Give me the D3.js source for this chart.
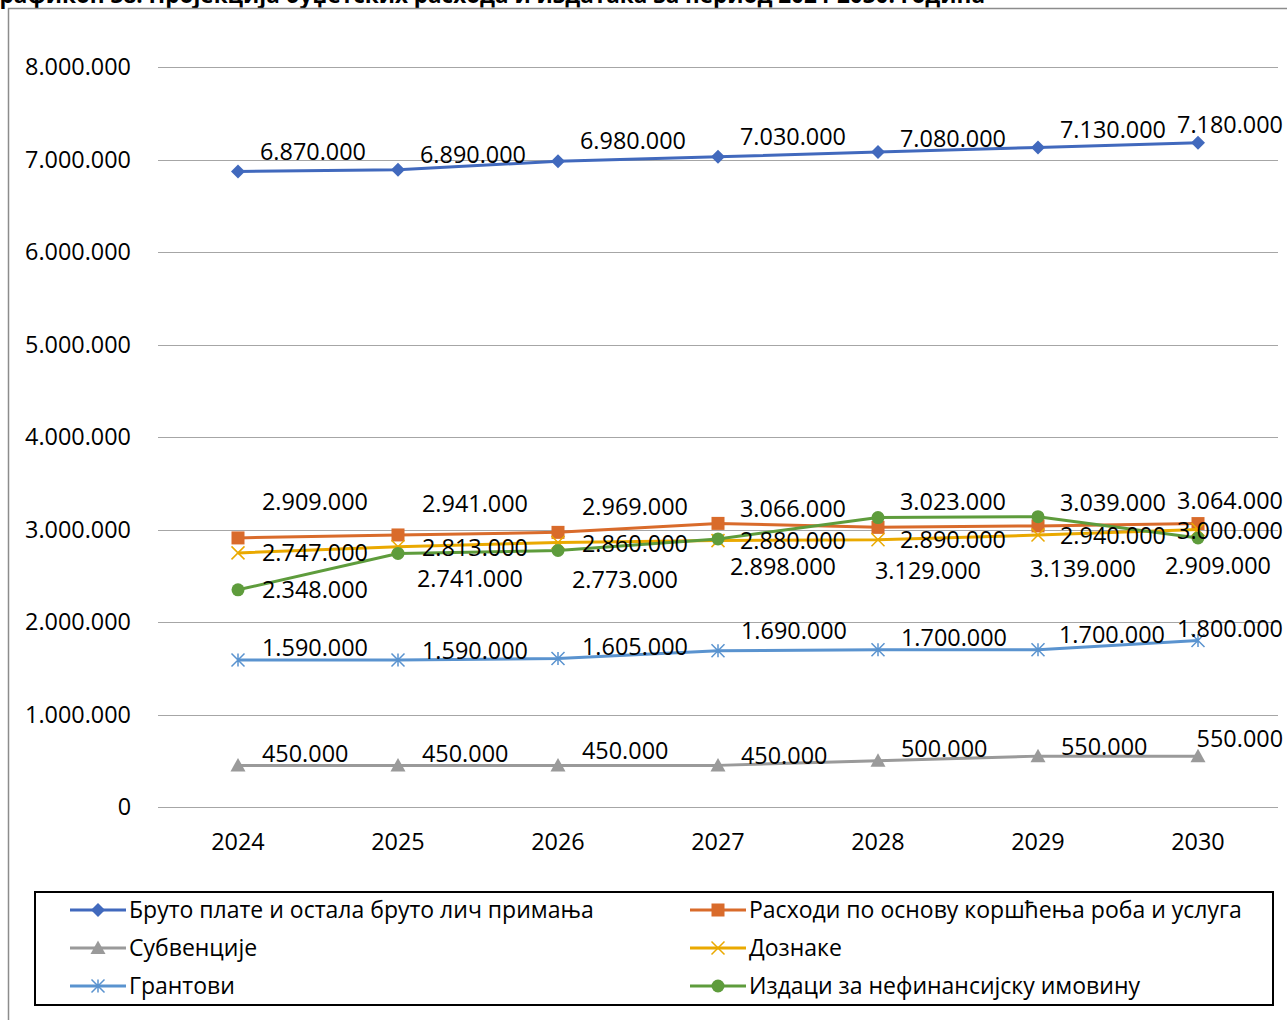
<!DOCTYPE html>
<html><head><meta charset="utf-8">
<script src="https://cdn.jsdelivr.net/npm/d3@7"></script>
<style>
html,body{margin:0;padding:0;background:#fff;overflow:hidden}
svg{display:block;font-family:"Open Sans",sans-serif}
</style></head>
<body>
<svg id="c" width="1287" height="1020"></svg>
<script>
// ---- data ----
const years = ["2024","2025","2026","2027","2028","2029","2030"];
const seriesNames = [
  "Бруто плате и остала бруто лич примања",
  "Расходи по основу коршћења роба и услуга",
  "Субвенције",
  "Дознаке",
  "Грантови",
  "Издаци за нефинансијску имовину"
];
const bruto   = [6870000, 6890000, 6980000, 7030000, 7080000, 7130000, 7180000];
const rashodi = [2909000, 2941000, 2969000, 3066000, 3023000, 3039000, 3064000];
const subv    = [450000, 450000, 450000, 450000, 500000, 550000, 550000];
const doznake = [2747000, 2813000, 2860000, 2880000, 2890000, 2940000, 3000000];
const granti  = [1590000, 1590000, 1605000, 1690000, 1700000, 1700000, 1800000];
const izdaci  = [2348000, 2741000, 2773000, 2898000, 3129000, 3139000, 2909000];
const yTicks  = [0,1000000,2000000,3000000,4000000,5000000,6000000,7000000,8000000];
const title = "Графикон 38: Пројекција буџетских расхода и издатака за период 2024-2030. година";

// ---- styling / layout (not data) ----
const colors = ["#4169BD","#D96B2B","#9A9A9A","#EAA900","#5A93CF","#5E9C3C"];
const markers = ["diamond","square","triangle","x","star","circle"];
const values = [bruto, rashodi, subv, doznake, granti, izdaci];
// data label nudges (pixels, relative to point)
const labDy = [
  [-20,-15,-20,-20,-13,-17,-18],
  [-36,-31,-25,-14,-25,-23,-23],
  [-11,-11,-14,-9,-12,-9,-17],
  [0,1,2,0,0,1,1],
  [-12,-9,-12,-20,-12,-15,-12],
  [0,26,30,28,53,52,28]
];
const labDx = [
  [22,22,22,22,22,22,22],
  [24,24,24,22,22,22,22],
  [24,24,24,23,23,23,23],
  [24,24,24,22,22,22,22],
  [24,24,24,23,23,21,22],
  [24,19,14,12,-3,-8,-33]
];
const FS = 23.4;

const svg = d3.select("#c");
const fmt = d3.formatLocale({decimal:",", thousands:".", grouping:[3], currency:["",""]}).format(",d");

const L = 158, R = 1278, T = 67, B = 807;
const x = d3.scaleBand().domain(years).range([L, R]);
const y = d3.scaleLinear().domain([0, 8000000]).range([B, T]);
const cx = d => x(d) + x.bandwidth()/2;

// title (cut off at top)
svg.append("text").attr("x", -13).attr("y", 3).attr("font-weight", "bold")
  .attr("font-size", 22.5).attr("fill", "#000").text(title);

// outer border
svg.append("path").attr("d", "M8.5,1020V8.5H1287").attr("fill","none")
  .attr("stroke","#8c8c8c").attr("stroke-width",1.5);

// grid lines
svg.append("g").selectAll("line").data(yTicks).join("line")
  .attr("x1", L).attr("x2", R)
  .attr("y1", d => Math.round(y(d)) + 0.5).attr("y2", d => Math.round(y(d)) + 0.5)
  .attr("stroke", "#A6A6A6").attr("stroke-width", 1);

// y axis labels
const yAxis = d3.axisLeft(y).tickValues(yTicks).tickFormat(fmt).tickSize(0).tickPadding(27);
const ya = svg.append("g").attr("transform", `translate(${L},0)`).call(yAxis);
ya.select(".domain").remove();
ya.selectAll("text").attr("font-size", FS).attr("fill", "#000").attr("font-family", "Open Sans");

// x axis labels
const xAxis = d3.axisBottom(x).tickSize(0).tickPadding(26);
const xa = svg.append("g").attr("transform", `translate(0,${B})`).call(xAxis);
xa.select(".domain").remove();
xa.selectAll("text").attr("font-size", FS).attr("fill", "#000").attr("font-family", "Open Sans");

function drawMarker(g, type, color, px, py, s) {
  if (type === "diamond") {
    g.append("path").attr("d", `M${px},${py-s}L${px+s},${py}L${px},${py+s}L${px-s},${py}Z`).attr("fill", color);
  } else if (type === "square") {
    g.append("rect").attr("x", px-s).attr("y", py-s).attr("width", 2*s).attr("height", 2*s).attr("fill", color);
  } else if (type === "triangle") {
    g.append("path").attr("d", `M${px},${py-s}L${px+s},${py+s*0.8}L${px-s},${py+s*0.8}Z`).attr("fill", color);
  } else if (type === "circle") {
    g.append("circle").attr("cx", px).attr("cy", py).attr("r", s).attr("fill", color);
  } else if (type === "x") {
    g.append("path").attr("d", `M${px-s},${py-s}L${px+s},${py+s}M${px-s},${py+s}L${px+s},${py-s}`)
      .attr("stroke", color).attr("stroke-width", 1.5).attr("fill","none");
  } else if (type === "star") {
    g.append("path").attr("d", `M${px-s},${py-s}L${px+s},${py+s}M${px-s},${py+s}L${px+s},${py-s}M${px},${py-s}L${px},${py+s}`)
      .attr("stroke", color).attr("stroke-width", 1.5).attr("fill","none");
  }
}
const mSize = [7, 6.5, 7.5, 6.5, 6.5, 6.5];

const line = d3.line().x((d,i) => cx(years[i])).y(d => y(d));
const plot = svg.append("g");
values.forEach((vals, si) => {
  const g = plot.append("g");
  g.append("path").datum(vals).attr("d", line).attr("fill", "none")
    .attr("stroke", colors[si]).attr("stroke-width", 3).attr("stroke-linejoin","round");
  vals.forEach((v, i) => drawMarker(g, markers[si], colors[si], cx(years[i]), y(v), mSize[si]));
});

// data labels
const labels = svg.append("g");
values.forEach((vals, si) => {
  vals.forEach((v, i) => {
    const t = labels.append("text")
      .attr("font-size", FS).attr("fill", "#000")
      .attr("x", cx(years[i]) + labDx[si][i])
      .attr("y", y(v) + labDy[si][i] + 8)
      .text(fmt(v));
    const w = t.node().getComputedTextLength();
    const left = cx(years[i]) + labDx[si][i];
    if (left + w > 1283) t.attr("x", 1283 - w);
  });
});

// legend
const lg = svg.append("g");
lg.append("rect").attr("x", 35).attr("y", 892).attr("width", 1238).attr("height", 113)
  .attr("fill", "#fff").attr("stroke", "#000").attr("stroke-width", 2);
const legPos = [[70,910],[690,910],[70,948],[690,948],[70,986],[690,986]];
seriesNames.forEach((name, si) => {
  const [lx, ly] = legPos[si];
  const g = lg.append("g");
  g.append("line").attr("x1", lx).attr("x2", lx + 56).attr("y1", ly).attr("y2", ly)
    .attr("stroke", colors[si]).attr("stroke-width", 3);
  drawMarker(g, markers[si], colors[si], lx + 28, ly, mSize[si]);
  g.append("text").attr("x", lx + 59).attr("y", ly + 8).attr("font-size", 23)
    .attr("fill", "#000").text(name);
});
</script>
</body></html>
